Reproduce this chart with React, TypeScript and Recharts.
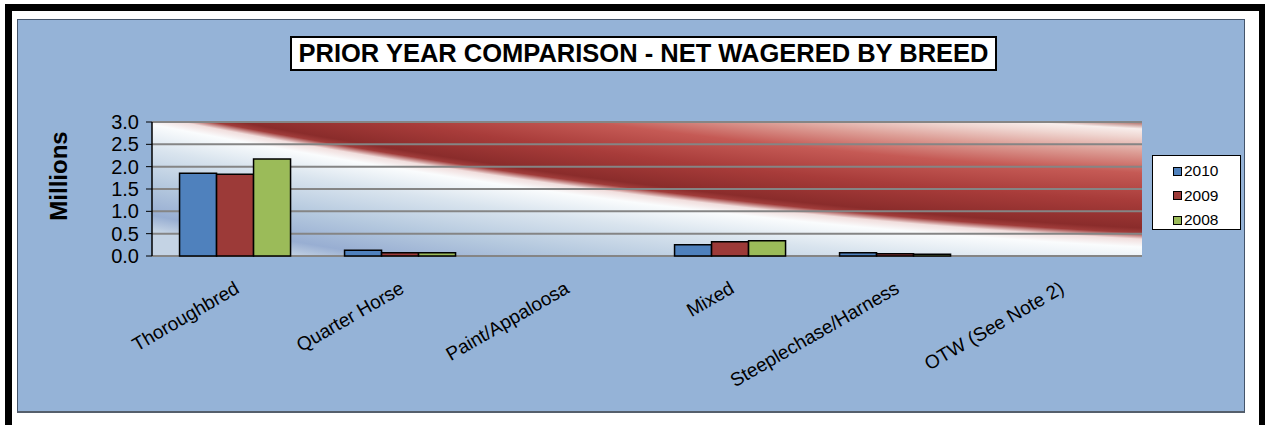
import { BarChart, Bar, XAxis, YAxis, CartesianGrid } from 'recharts';

const breeds = ['Thoroughbred', 'Quarter Horse', 'Paint/Appaloosa', 'Mixed', 'Steeplechase/Harness', 'OTW (See Note 2)'];
const net2010 = [1.85, 0.13, 0, 0.25, 0.07, 0];
const net2009 = [1.83, 0.07, 0, 0.32, 0.05, 0];
const net2008 = [2.17, 0.07, 0, 0.34, 0.04, 0];
const yTicks = [0, 0.5, 1, 1.5, 2, 2.5, 3];
const edgeTicks = [0, 1, 2, 3, 4, 5, 6];

const series = [
  { key: 'y2010', name: '2010', color: '#4f81bd' },
  { key: 'y2009', name: '2009', color: '#9c3a38' },
  { key: 'y2008', name: '2008', color: '#9bbb59' },
];

const data = breeds.map((b, i) => ({ breed: b, y2010: net2010[i], y2009: net2009[i], y2008: net2008[i] }));

const FONT = "'Liberation Sans', Arial, sans-serif";

// background: a huge radial gradient centred up and to the right, so the red band curves a little.
// each stop is given as depth d into the band (0 = lower left, ~230 = upper right corner)
const R = 7100;
const RED_EDGE = 6995;
const bgStops: [number, string][] = [
  [0, '#c4d3e4'],
  [15, '#98aed2'],
  [45, '#b4c8de'],
  [80, '#d9e4ee'],
  [104, '#fafcfd'],
  [112, '#f1dedd'],
  [118, '#a03c3a'],
  [123, '#8a2c2b'],
  [150, '#a83c3a'],
  [178, '#c55a55'],
  [198, '#dc9d95'],
  [214, '#efd6d1'],
  [222, '#f8eeec'],
  [227, '#c08a85'],
  [234, '#7a2a28'],
];
const radialStops = bgStops
  .map(([d, c]) => [(RED_EDGE - d) / R, c] as [number, string])
  .sort((a, b) => a[0] - b[0]);

function XTick(props: any) {
  const { x, y, payload } = props;
  const ax = x + 6;
  const ay = y + 34;
  return (
    <text x={ax} y={ay} transform={`rotate(-30, ${ax}, ${ay})`} textAnchor="end" fontSize={19} fontFamily={FONT} fill="#000">
      {payload.value}
    </text>
  );
}

function MillionsLabel(props: any) {
  const vb = props.viewBox;
  const cx = vb.x + 58;
  const cy = vb.y + vb.height / 2 - 13;
  return (
    <text x={cx} y={cy} transform={`rotate(-90, ${cx}, ${cy})`} textAnchor="middle" dominantBaseline="central" fontSize={24} fontWeight="bold" fontFamily={FONT} fill="#000">
      Millions
    </text>
  );
}

export default function App() {
  return (
    <div style={{ position: 'absolute', left: 0, top: 0, width: 1265, height: 425, background: '#fff', overflow: 'hidden', fontFamily: FONT }}>
      {/* black frame */}
      <div style={{ position: 'absolute', left: 5, top: 4, width: 1260, height: 7, background: '#000' }} />
      <div style={{ position: 'absolute', left: 5, top: 4, width: 7, height: 421, background: '#000' }} />
      <div style={{ position: 'absolute', left: 1259, top: 4, width: 6, height: 421, background: '#000' }} />
      {/* chart panel */}
      <div style={{ position: 'absolute', left: 17, top: 19, width: 1228, height: 394, boxSizing: 'border-box', background: '#95b3d7', borderTop: '1px solid #44546a', borderLeft: '1px solid #44546a', borderRight: '1px solid #44546a', borderBottom: '2px solid #555f6c' }} />
      <div style={{ position: 'absolute', left: 0, top: 0 }}>
        <BarChart width={1265} height={425} data={data} margin={{ top: 122, right: 123, bottom: 69, left: 0 }} barCategoryGap="16.7%" barGap={0}>
          <defs>
            <radialGradient id="plotBg" gradientUnits="userSpaceOnUse" cx={1492} cy={-6635} r={R}>
              {radialStops.map(([o, c]) => (
                <stop key={o} offset={o} stopColor={c} />
              ))}
            </radialGradient>
          </defs>
          <CartesianGrid vertical={false} fill="url(#plotBg)" fillOpacity={1} stroke="#858585" strokeWidth={2} />
          <XAxis xAxisId="edges" type="number" dataKey="none" domain={[0, 6]} ticks={edgeTicks} interval={0} tick={false} height={0} tickSize={5} axisLine={{ stroke: '#000', strokeWidth: 1.5 }} tickLine={{ stroke: '#000', strokeWidth: 1 }} allowDataOverflow />
          <XAxis dataKey="breed" height={100} axisLine={false} tickLine={false} tickSize={0} interval={0} tick={<XTick />} />
          <YAxis domain={[0, 3]} ticks={yTicks} interval={0} width={152} tickSize={6} tickMargin={7} tickFormatter={(v: number) => v.toFixed(1)} axisLine={{ stroke: '#000', strokeWidth: 1.5 }} tickLine={{ stroke: '#000' }} tick={{ fill: '#000', fontSize: 20, fontFamily: FONT }} label={<MillionsLabel />} />
          <YAxis yAxisId="right" orientation="right" domain={[0, 3]} width={0} tick={false} tickLine={false} axisLine={{ stroke: '#858585', strokeWidth: 2 }} />
          {series.map((s) => (
            <Bar key={s.key} dataKey={s.key} name={s.name} fill={s.color} stroke="#000" strokeWidth={1.5} isAnimationActive={false} />
          ))}
        </BarChart>
      </div>
      {/* title */}
      <div style={{ position: 'absolute', left: 290, top: 36, width: 707, height: 35, boxSizing: 'border-box', border: '2px solid #000', background: '#fff', textAlign: 'center', fontWeight: 'bold', fontSize: 25.5, lineHeight: '31px', color: '#000', whiteSpace: 'nowrap' }}>
        PRIOR YEAR COMPARISON - NET WAGERED BY BREED
      </div>
      {/* legend */}
      <div style={{ position: 'absolute', left: 1152, top: 155, width: 89, height: 75, boxSizing: 'border-box', border: '1px solid #000', background: '#fff', paddingTop: 3 }}>
        {series.map((s) => (
          <div key={s.key} style={{ display: 'flex', alignItems: 'center', height: 24.5, paddingLeft: 20, fontSize: 15.5, color: '#000' }}>
            <span style={{ display: 'inline-block', width: 7, height: 7, border: '1.5px solid #000', background: s.color, marginRight: 2 }} />
            {s.name}
          </div>
        ))}
      </div>
    </div>
  );
}
